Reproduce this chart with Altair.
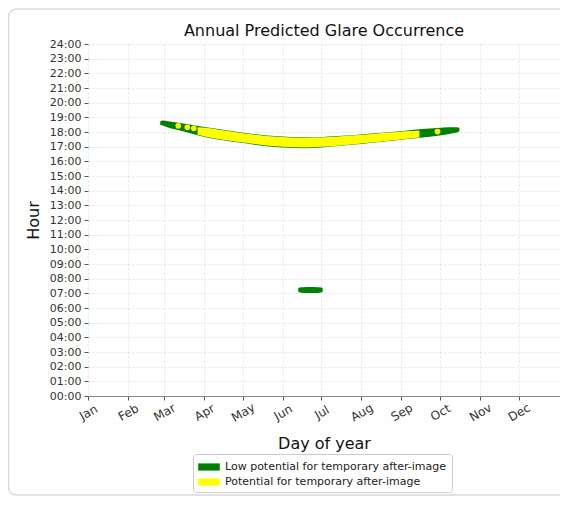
import altair as alt
import pandas as pd

LOW = "Low potential for temporary after-image"
POT = "Potential for temporary after-image"

month_names = ["Jan", "Feb", "Mar", "Apr", "May", "Jun", "Jul", "Aug", "Sep", "Oct", "Nov", "Dec"]
month_start_days = [0, 31, 59, 90, 120, 151, 181, 212, 243, 273, 304, 334]
hour_ticks = list(range(25))

# Low potential (green) - evening band
low_days = [56, 58, 62, 70, 80, 93, 106, 119, 132, 145, 157, 168, 180, 194, 207, 220, 233, 246, 259, 271, 280, 286, 288]
low_lo = [18.50, 18.44, 18.31, 18.13, 17.90, 17.61, 17.42, 17.26, 17.10, 16.98, 16.92, 16.90, 16.95, 17.04, 17.14, 17.26, 17.38, 17.50, 17.63, 17.75, 17.87, 17.96, 18.05]
low_hi = [18.72, 18.79, 18.73, 18.63, 18.49, 18.30, 18.13, 17.97, 17.83, 17.72, 17.66, 17.64, 17.65, 17.72, 17.80, 17.90, 17.99, 18.08, 18.20, 18.28, 18.32, 18.33, 18.27]

# Low potential (green) - morning patch
low_am_days = [163, 164, 167, 172, 178, 181, 182]
low_am_lo = [7.12, 7.06, 7.03, 7.02, 7.03, 7.06, 7.12]
low_am_hi = [7.34, 7.40, 7.42, 7.43, 7.42, 7.40, 7.34]

# Potential (yellow) - evening band
pot_days = [85, 93, 106, 119, 132, 145, 157, 168, 180, 194, 207, 220, 233, 246, 257]
pot_lo = [17.82, 17.65, 17.46, 17.30, 17.15, 17.03, 16.97, 16.95, 16.99, 17.07, 17.17, 17.28, 17.40, 17.52, 17.63]
pot_hi = [18.32, 18.28, 18.10, 17.94, 17.80, 17.69, 17.63, 17.61, 17.62, 17.69, 17.77, 17.87, 17.96, 18.05, 18.11]

# Potential (yellow) - isolated points
pot_dot_days = [70, 77, 82, 271]
pot_dot_hours = [18.42, 18.32, 18.25, 18.03]

FONT = "DejaVu Sans"

rows = []
for d, lo, hi in zip(low_days, low_lo, low_hi):
    rows.append({"day": d, "lo": lo, "hi": hi, "level": LOW, "seg": "pm"})
for d, lo, hi in zip(low_am_days, low_am_lo, low_am_hi):
    rows.append({"day": d, "lo": lo, "hi": hi, "level": LOW, "seg": "am"})
df_low = pd.DataFrame(rows)
df_pot = pd.DataFrame({"day": pot_days, "lo": pot_lo, "hi": pot_hi, "level": POT, "seg": "pm"})
df_dot = pd.DataFrame({"day": pot_dot_days, "hour": pot_dot_hours, "level": POT})

label_expr_x = "[" + ",".join("'%s'" % m for m in month_names) + "][indexof([" + ",".join(str(v) for v in month_start_days) + "], datum.value)]"

x_enc = alt.X(
    "day:Q",
    scale=alt.Scale(domain=[0, 366], nice=False, zero=False),
    axis=alt.Axis(
        values=month_start_days,
        labelExpr=label_expr_x,
        labelAngle=330,
        labelAlign="center",
        labelBaseline="middle",
        labelPadding=12,
        labelFontSize=12,
        titlePadding=12,
        title="Day of year",
    ),
)
y_scale = alt.Scale(domain=[0, 24], nice=False, zero=False)
y_axis = alt.Axis(
    values=hour_ticks,
    labelExpr="(datum.value < 10 ? '0' : '') + datum.value + ':00'",
    title="Hour",
    domain=False,
)
color_enc = alt.Color(
    "level:N",
    scale=alt.Scale(domain=[LOW, POT], range=["#008000", "#ffff00"]),
    legend=alt.Legend(
        title=None,
        orient="none",
        legendX=105,
        legendY=410,
        direction="vertical",
        symbolType="M-1.35,-0.45H1.35V0.45H-1.35Z",
        symbolSize=256,
        symbolOffset=3,
        labelOffset=8,
        symbolStrokeWidth=0,
        symbolOpacity=1,
        labelFont=FONT,
        labelFontSize=11,
        labelColor="#222",
        labelLimit=400,
        strokeColor="#cccccc",
        fillColor="white",
        cornerRadius=3,
        padding=5,
        rowPadding=2,
    ),
)

card = alt.Chart(pd.DataFrame({"a": [0]})).mark_rect(
    fillOpacity=0, stroke="#d9d9d9", strokeWidth=1.5, cornerRadius=8
).encode(
    x=alt.value(-79.5), x2=alt.value(520), y=alt.value(-35), y2=alt.value(451)
)

green = alt.Chart(df_low).mark_area(interpolate="monotone", opacity=1).encode(
    x=x_enc,
    y=alt.Y("lo:Q", scale=y_scale, axis=y_axis),
    y2="hi:Q",
    color=color_enc,
    detail="seg:N",
)
yellow = alt.Chart(df_pot).mark_area(interpolate="monotone", opacity=1).encode(
    x=x_enc,
    y=alt.Y("lo:Q", scale=y_scale, axis=y_axis),
    y2="hi:Q",
    color=color_enc,
    detail="seg:N",
)
dots = alt.Chart(df_dot).mark_circle(size=32, opacity=1).encode(
    x=x_enc,
    y=alt.Y("hour:Q", scale=y_scale, axis=y_axis),
    color=color_enc,
)

chart = alt.layer(card, green, yellow, dots).properties(
    width=472,
    height=352,
    background="white",
    autosize=alt.AutoSizeParams(type="none"),
    padding={"left": 80, "top": 36, "right": 0, "bottom": 100},
    title=alt.TitleParams(
        "Annual Predicted Glare Occurrence",
        font=FONT, fontSize=16, fontWeight="normal", color="#111", anchor="middle", offset=7, dy=38,
    ),
).configure_view(stroke=None).configure_axis(
    labelFont=FONT,
    labelFontSize=11,
    labelColor="#333",
    titleFont=FONT,
    titleFontSize=16,
    titleFontWeight="normal",
    titleColor="#111",
    gridColor="#e4e4e4",
    gridDash=[2, 2],
    tickColor="#555",
    tickSize=4,
    domainColor="#888",
).configure_axisY(labelPadding=3, titlePadding=8)

chart.save("out.html", embed_options={"renderer": "svg", "actions": False})
